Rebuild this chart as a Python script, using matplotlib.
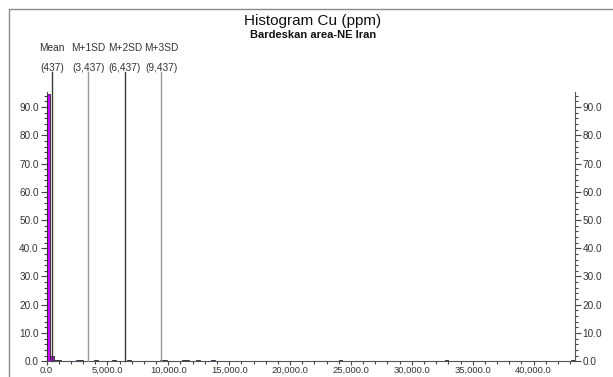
import matplotlib
matplotlib.use("Agg")
import matplotlib.pyplot as plt
from matplotlib.lines import Line2D
from matplotlib.ticker import MultipleLocator, FuncFormatter

plt.rcParams['font.family'] = ['Liberation Sans', 'DejaVu Sans']

# Histogram of Cu (ppm), percent of samples per class
bin_width = 300
bin_starts = [0, 300, 600, 900, 2400, 2700, 3900, 5400, 6600, 9300, 9600,
              11100, 11400, 12300, 13500, 24000, 32700, 43100]
percents = [94.6, 2.0, 0.5, 0.4, 0.4, 0.4, 0.4, 0.4, 0.4, 0.4, 0.5,
            0.4, 0.4, 0.4, 0.4, 0.4, 0.4, 0.4]

# Mean and standard-deviation reference lines
stat_names = ["Mean", "M+1SD", "M+2SD", "M+3SD"]
stat_values = [437, 3437, 6437, 9437]
stat_colors = ["#3a3a3a", "#9a9a9a", "#3a3a3a", "#9a9a9a"]

title = "Histogram Cu (ppm)"
subtitle = "Bardeskan area-NE Iran"

W, H = 613, 377
fig = plt.figure(figsize=(W / 100, H / 100), dpi=100)
fig.patch.set_facecolor("white")

# outer frame (left and top edges)
fx, fy = 9 / W, 1 - 9 / H
fig.add_artist(Line2D([fx, fx, 1.0], [0.0, fy, fy], transform=fig.transFigure,
                      color="#8a8a8a", lw=1.0))

left, right, bottom, top = 46.5, 575.0, 361.2, 91.5
ax = fig.add_axes([left / W, 1 - bottom / H, (right - left) / W, (bottom - top) / H])

ax.bar(bin_starts, percents, width=bin_width, align="edge",
       color="#cc00ff", edgecolor="#2a2a2a", linewidth=0.6, zorder=3)

ax.set_xlim(0, 43400)
ax.set_ylim(0, 95.5)

ax.spines["top"].set_visible(False)
for s in ["left", "right", "bottom"]:
    ax.spines[s].set_color("#555555")
    ax.spines[s].set_linewidth(0.8)

tick_color = "#444444"
ax.xaxis.set_major_locator(MultipleLocator(5000))
ax.xaxis.set_minor_locator(MultipleLocator(1000))
ax.yaxis.set_major_locator(MultipleLocator(10))
ax.yaxis.set_minor_locator(MultipleLocator(2))
ax.xaxis.set_major_formatter(FuncFormatter(lambda v, p: f"{v:,.1f}"))
ax.yaxis.set_major_formatter(FuncFormatter(lambda v, p: f"{v:.1f}"))

ax.tick_params(axis="y", which="major", length=4, width=0.8, color=tick_color,
               labelsize=7.2, labelcolor="#333333", pad=1.5)
ax.tick_params(axis="y", which="minor", length=2.5, width=0.8, color=tick_color)
ax.tick_params(axis="y", which="both", left=True, right=True,
               labelleft=True, labelright=True)
ax.tick_params(axis="x", which="major", length=3, width=0.8, color=tick_color,
               labelsize=6.8, labelcolor="#333333", pad=0.3)
ax.tick_params(axis="x", which="minor", length=2, width=0.8, color=tick_color)

# reference lines reaching above the plot area with their labels
y_top_line = 102.4
for name, val, col in zip(stat_names, stat_values, stat_colors):
    ax.plot([val, val], [0, y_top_line], color=col, lw=1.0, clip_on=False, zorder=4)
    ax.text(val, 110.8, name, ha="center", va="center", fontsize=7.3,
            color="#333333", clip_on=False)
    ax.text(val, 103.9, f"({val:,})", ha="center", va="center", fontsize=7.3,
            color="#333333", clip_on=False)

fig.text(313 / W, 1 - 21.5 / H, title, ha="center", va="center",
         fontsize=11, color="#111111")
fig.text(313 / W, 1 - 35 / H, subtitle, ha="center", va="center",
         fontsize=8, fontweight="bold", color="#111111")

fig.savefig("out.png", dpi=100, facecolor="white")
